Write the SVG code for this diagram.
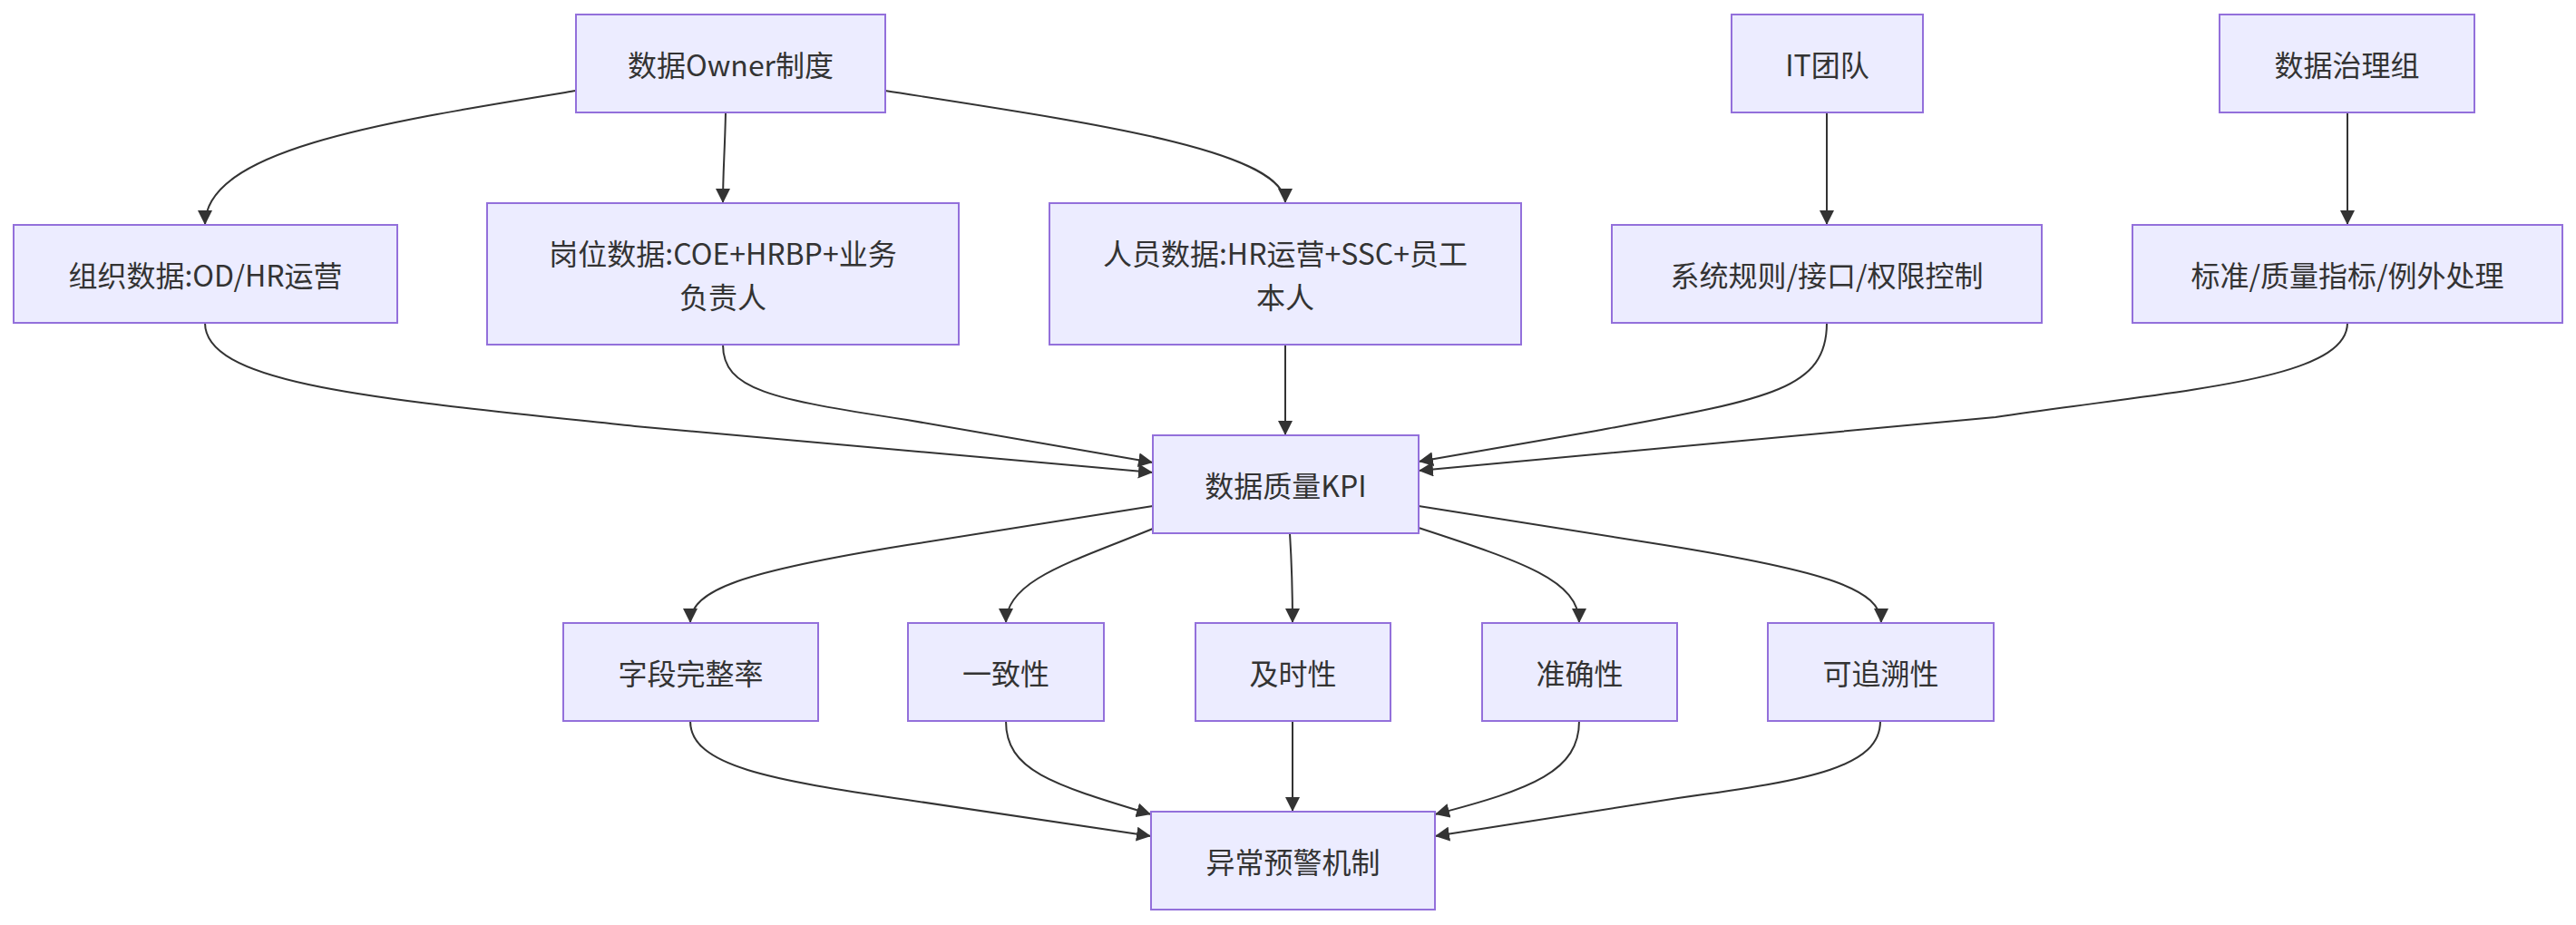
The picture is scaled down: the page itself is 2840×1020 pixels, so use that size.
<svg xmlns="http://www.w3.org/2000/svg" width="2840" height="1020" viewBox="0 0 2840 1020">
<defs>
<style>
.node rect{fill:#ECECFF;stroke:#9370DB;stroke-width:2}
.node text{font-family:"Noto Sans CJK SC","Noto Sans",sans-serif;font-size:32px;fill:#333333;text-anchor:middle;dominant-baseline:central}
.edges path{fill:none;stroke:#333333;stroke-width:2;marker-end:url(#arrow)}
</style>
<marker id="arrow" viewBox="0 0 10 10" refX="10" refY="5" markerWidth="16" markerHeight="16" markerUnits="userSpaceOnUse" orient="auto"><path d="M0,0 L10,5 L0,10 z" fill="#333333"/></marker>
</defs>
<rect x="0" y="0" width="2840" height="1020" fill="#ffffff"/>
<g id="edges" class="edges">
<path d="M635,100 C420,135 226,165 226,248"/>
<path d="M800,124 C799,170 797,190 797,224"/>
<path d="M976,100 C1200,135 1417,165 1417,224"/>
<path d="M2014,124 L2014,248"/>
<path d="M2588,124 L2588,248"/>
<path d="M226,356 C226,425 420,440 700,470 L1271,521"/>
<path d="M797,380 C797,430 850,440 1000,463 L1271,510"/>
<path d="M1417,380 L1417,480"/>
<path d="M2014,356 C2014,430 1950,440 1760,475 L1564,509"/>
<path d="M2588,356 C2588,420 2400,430 2200,460 L1564,519"/>
<path d="M1271,558 L1000,601 C820,630 761,650 761,687"/>
<path d="M1271,583 C1180,620 1109,640 1109,687"/>
<path d="M1422,588 C1424,620 1425,650 1425,687"/>
<path d="M1564,582 C1680,620 1741,640 1741,687"/>
<path d="M1564,558 L1835,601 C2015,630 2074,650 2074,687"/>
<path d="M761,795 C761,845 850,860 1000,882 L1269,922"/>
<path d="M1109,795 C1109,850 1160,865 1269,898"/>
<path d="M1425,795 L1425,895"/>
<path d="M1741,795 C1741,850 1690,870 1582,898"/>
<path d="M2073,795 C2073,845 2000,860 1850,880 L1582,922"/>
</g>
<g id="owner" class="node"><rect x="635" y="16" width="341" height="108"/><text x="805.5" y="70">数据Owner制度</text></g>
<g id="org" class="node"><rect x="15" y="248" width="423" height="108"/><text x="226.5" y="302">组织数据:OD/HR运营</text></g>
<g id="pos" class="node"><rect x="537" y="224" width="520" height="156"/><text x="797" y="278">岗位数据:COE+HRBP+业务</text><text x="797" y="326">负责人</text></g>
<g id="ppl" class="node"><rect x="1157" y="224" width="520" height="156"/><text x="1417" y="278">人员数据:HR运营+SSC+员工</text><text x="1417" y="326">本人</text></g>
<g id="it" class="node"><rect x="1909" y="16" width="211" height="108"/><text x="2014.5" y="70">IT团队</text></g>
<g id="sys" class="node"><rect x="1777" y="248" width="474" height="108"/><text x="2014" y="302">系统规则/接口/权限控制</text></g>
<g id="gov" class="node"><rect x="2447" y="16" width="281" height="108"/><text x="2587.5" y="70">数据治理组</text></g>
<g id="std" class="node"><rect x="2351" y="248" width="474" height="108"/><text x="2588" y="302">标准/质量指标/例外处理</text></g>
<g id="kpi" class="node"><rect x="1271" y="480" width="293" height="108"/><text x="1417.5" y="534">数据质量KPI</text></g>
<g id="f1" class="node"><rect x="621" y="687" width="281" height="108"/><text x="761.5" y="741">字段完整率</text></g>
<g id="f2" class="node"><rect x="1001" y="687" width="216" height="108"/><text x="1109" y="741">一致性</text></g>
<g id="f3" class="node"><rect x="1318" y="687" width="215" height="108"/><text x="1425.5" y="741">及时性</text></g>
<g id="f4" class="node"><rect x="1634" y="687" width="215" height="108"/><text x="1741.5" y="741">准确性</text></g>
<g id="f5" class="node"><rect x="1949" y="687" width="249" height="108"/><text x="2073.5" y="741">可追溯性</text></g>
<g id="alarm" class="node"><rect x="1269" y="895" width="313" height="108"/><text x="1425.5" y="949">异常预警机制</text></g>
</svg>
